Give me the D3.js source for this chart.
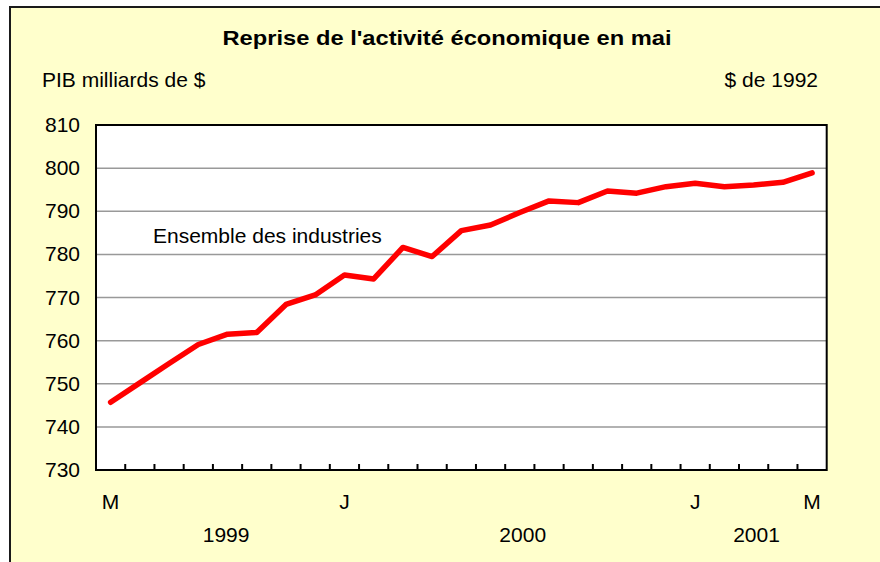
<!DOCTYPE html>
<html>
<head>
<meta charset="utf-8">
<script src="https://cdn.jsdelivr.net/npm/d3@7"></script>
<style>
  body { margin: 0; background: #fff; }
  text { font-family: "Liberation Sans", Arial, sans-serif; fill: #000; }
</style>
</head>
<body>
<div id="myVis"></div>
<script>
// data
const months = ["1999-05","1999-06","1999-07","1999-08","1999-09","1999-10","1999-11","1999-12",
  "2000-01","2000-02","2000-03","2000-04","2000-05","2000-06","2000-07","2000-08","2000-09","2000-10","2000-11","2000-12",
  "2001-01","2001-02","2001-03","2001-04","2001-05"]
const gdp = [745.7, 750.2, 754.7, 759.1, 761.5, 761.9, 768.4, 770.6, 775.2, 774.3, 781.6, 779.5, 785.5,
  786.8, 789.7, 792.4, 792.0, 794.7, 794.2, 795.7, 796.5, 795.7, 796.1, 796.7, 798.9]
const monthLabels = [{i: 0, t: "M"}, {i: 8, t: "J"}, {i: 20, t: "J"}, {i: 24, t: "M"}]
const yearLabels = [{pos: 4.45, t: "1999"}, {pos: 14.6, t: "2000"}, {pos: 22.6, t: "2001"}]
const yTicks = [730, 740, 750, 760, 770, 780, 790, 800, 810]

const width = 880, height = 562
const plot = {left: 96, right: 826.7, top: 125, bottom: 470}

const svg = d3.select("#myVis")
  .append("svg")
    .attr("width", width)
    .attr("height", height)

// yellow chart area with border
svg.append("rect")
  .attr("x", 10).attr("y", 7)
  .attr("width", width + 10).attr("height", height + 10)
  .attr("fill", "#ffffcc")
  .attr("stroke", "#1a1a1a")
  .attr("stroke-width", 2)

const x = d3.scaleBand().domain(months).range([plot.left, plot.right])
const xi = d3.scaleLinear().domain([0, months.length]).range([plot.left, plot.right])
const y = d3.scaleLinear().domain([730, 810]).range([plot.bottom, plot.top])

svg.append("rect")
  .attr("x", plot.left).attr("y", plot.top)
  .attr("width", plot.right - plot.left).attr("height", plot.bottom - plot.top)
  .attr("fill", "#fff")

// gridlines
svg.append("g")
  .selectAll("line")
  .data(yTicks.slice(1, -1))
  .enter()
  .append("line")
    .attr("x1", plot.left).attr("x2", plot.right)
    .attr("y1", d => y(d)).attr("y2", d => y(d))
    .attr("stroke", "#999")
    .attr("stroke-width", 1.5)

// frame
svg.append("rect")
  .attr("x", plot.left).attr("y", plot.top)
  .attr("width", plot.right - plot.left).attr("height", plot.bottom - plot.top)
  .attr("fill", "none")
  .attr("stroke", "#000")
  .attr("stroke-width", 2)

// y labels
svg.append("g")
  .selectAll("text")
  .data(yTicks)
  .enter()
  .append("text")
    .attr("x", 80)
    .attr("y", d => y(d) + 7)
    .attr("text-anchor", "end")
    .style("font-size", "21px")
    .text(d => d)

// x ticks at month boundaries, pointing inward
svg.append("g")
  .selectAll("line")
  .data(d3.range(1, months.length))
  .enter()
  .append("line")
    .attr("x1", d => xi(d)).attr("x2", d => xi(d))
    .attr("y1", plot.bottom).attr("y2", plot.bottom - 6)
    .attr("stroke", "#000")
    .attr("stroke-width", 2)

svg.append("g")
  .selectAll("text")
  .data(monthLabels)
  .enter()
  .append("text")
    .attr("x", d => x(months[d.i]) + x.bandwidth() / 2)
    .attr("y", 509)
    .attr("text-anchor", "middle")
    .style("font-size", "21px")
    .text(d => d.t)

svg.append("g")
  .selectAll("text")
  .data(yearLabels)
  .enter()
  .append("text")
    .attr("x", d => xi(d.pos))
    .attr("y", 542)
    .attr("text-anchor", "middle")
    .style("font-size", "21px")
    .text(d => d.t)

// the series
const line = d3.line()
  .x((d, i) => x(months[i]) + x.bandwidth() / 2)
  .y(d => y(d))

svg.append("path")
  .datum(gdp)
  .attr("d", line)
  .attr("fill", "none")
  .attr("stroke", "#ff0000")
  .attr("stroke-width", 5.5)
  .attr("stroke-linejoin", "round")
  .attr("stroke-linecap", "round")

svg.append("text")
  .attr("x", 153).attr("y", 243)
  .style("font-size", "21px")
  .text("Ensemble des industries")

// titles
svg.append("text")
  .attr("x", 447).attr("y", 45)
  .attr("text-anchor", "middle")
  .attr("textLength", 449)
  .attr("lengthAdjust", "spacingAndGlyphs")
  .style("font-size", "21px")
  .style("font-weight", "bold")
  .text("Reprise de l'activité économique en mai")

svg.append("text")
  .attr("x", 42).attr("y", 87)
  .style("font-size", "21px")
  .text("PIB milliards de $")

svg.append("text")
  .attr("x", 818).attr("y", 87)
  .attr("text-anchor", "end")
  .style("font-size", "21px")
  .text("$ de 1992")
</script>
</body>
</html>
